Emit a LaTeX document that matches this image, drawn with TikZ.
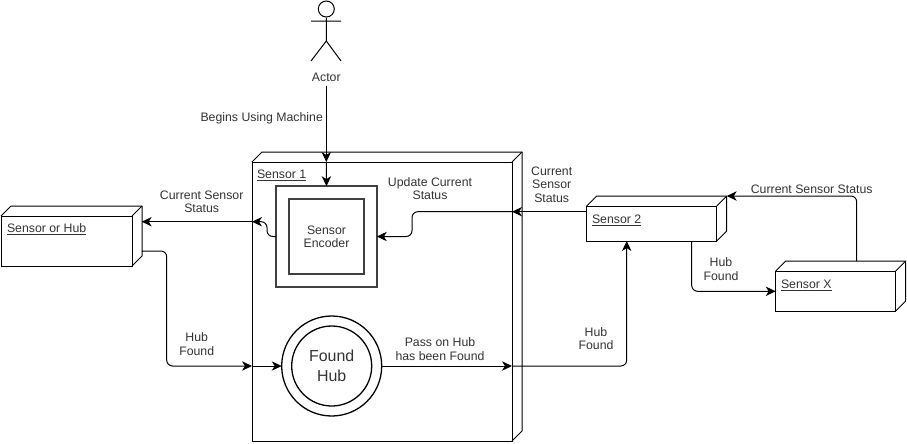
\documentclass[tikz,border=0pt]{standalone}
\usepackage{fontspec}
\setmainfont{Liberation Sans}
\usetikzlibrary{arrows.meta,calc}

\tikzset{
  cubeface/.style={draw,anchor=north west,inner sep=0pt,outer sep=0pt,line width=0.85pt},
  cubeline/.style={line width=0.85pt},
  txt/.style={inner sep=0pt,outer sep=0pt,text=black!80,align=center,font=\fontsize{10.5}{11.5}\selectfont},
  cubelabel/.style={txt,anchor=west},
  flow/.style={line width=0.85pt,rounded corners=5pt,-{Stealth[length=8.5pt,width=8pt,inset=2.5pt]}},
  encoderbox/.style={draw=black!75,line width=1.9pt,inner sep=0pt,outer sep=0pt},
  hubring/.style={draw,circle,line width=1.1pt,inner sep=0pt,outer sep=0pt}
}
\newcommand{\cubeback}[1]{
  \draw[cubeline,line join=round] (#1.north west) -- ++(10,-10) -- ($(#1.north east)+(10,-10)$)
    -- ($(#1.south east)+(10,-10)$) -- (#1.south east);
  \draw[cubeline] (#1.north east) -- ++(10,-10);
}

\begin{document}
\begin{tikzpicture}[x=0.03cm,y=-0.03cm]
  \useasboundingbox (0,0) rectangle (907,443);

  % actor
  \node[draw,circle,line width=0.85pt,minimum size=0.48cm,inner sep=0pt] (head) at (326.3,9) {};
  \coordinate (arml) at (311,21);
  \coordinate (armr) at (341,21);
  \coordinate (hip) at (326.3,41);
  \coordinate (legl) at (311,61);
  \coordinate (legr) at (341,61);
  \draw[cubeline] (head.south)--(hip) (arml)--(armr) (legl)--(hip)--(legr);
  \node[txt] (actor) at (326.3,77) {Actor};
  \coordinate (actorout) at (326.3,86);

  % cubes
  \node[cubeface,minimum width=7.8cm,minimum height=8.37cm] (sensor1) at (252,162) {};
  \cubeback{sensor1}
  \node[cubeface,minimum width=3.93cm,minimum height=1.5cm] (hubbox) at (1,216) {};
  \cubeback{hubbox}
  \node[cubeface,minimum width=3.9cm,minimum height=1.05cm] (sensor2) at (586.7,206) {};
  \cubeback{sensor2}
  \node[cubeface,minimum width=3.6cm,minimum height=1.2cm] (sensorx) at (775.7,271) {};
  \cubeback{sensorx}

  \node[cubelabel] (sensor1txt) at (257,175.5) {\underline{Sensor 1}};
  \node[cubelabel] (hubboxtxt) at (7,229.5) {\underline{Sensor or Hub}};
  \node[cubelabel] (sensor2txt) at (592,220.5) {\underline{Sensor 2}};
  \node[cubelabel] (sensorxtxt) at (781,285.5) {\underline{Sensor X}};

  % encoder
  \node[encoderbox,minimum size=3.02cm] (encoder) at (326.5,236.5) {};
  \node[encoderbox,minimum size=2.25cm,txt] (encoderin) at (326.5,236.5) {Sensor\\Encoder};

  % found hub
  \node[hubring,minimum size=3cm] (hub) at (331.7,366) {};
  \node[hubring,minimum size=2.4cm,font=\fontsize{13.6}{17}\selectfont,text=black!80,align=center] (hubin) at (331.7,366) {Found\\Hub};

  % free ends
  \coordinate (s1left) at (252,221.7);
  \coordinate (s1right) at (512,211.7);
  \coordinate (hubtop) at (141.7,221.7);
  \coordinate (hubout) at (141.7,251);
  \coordinate (s1hubin) at (252,366);
  \coordinate (s1hubout) at (512,366);
  \coordinate (s2left) at (586.7,211.7);
  \coordinate (s2in) at (626.7,241);
  \coordinate (s2down) at (691.7,241);
  \coordinate (s2back) at (726.7,196);
  \coordinate (sxin) at (775.7,291.3);
  \coordinate (sxup) at (856.7,261);

  % connectors
  \draw[flow] (actorout)--(actorout|-sensor1.north);
  \draw[flow] (actorout|-sensor1.north)--(encoder.north);
  \draw[flow] (encoder.west)--(267,236.5)--(267,221.7)--(s1left);
  \draw[flow] (s1left)--(hubtop);
  \draw[flow] (hubout)--(166.7,251)--(166.7,366)--(s1hubin);
  \draw[flow] (s1hubin)--(hub.west);
  \draw[flow] (hub.east)--(s1hubout);
  \draw[flow] (s1hubout)--(s2in|-s1hubout)--(s2in);
  \draw[flow] (s2left)--(s1right);
  \draw[flow] (s1right)--(412,211.7)--(412,236.5)--(encoder.east);
  \draw[flow] (sxup)--(sxup|-s2back)--(s2back);
  \draw[flow] (s2down)--(s2down|-sxin)--(sxin);

  % labels
  \node[txt] (begins) at (261.7,118.6) {Begins Using Machine};
  \node[txt] (update) at (430,188.5) {Update Current\\Status};
  \node[txt] (statusl) at (201.7,201.5) {Current Sensor\\Status};
  \node[txt] (statusm) at (551.7,184.5) {Current\\Sensor\\Status};
  \node[txt] (statusr) at (811.7,189) {Current Sensor Status};
  \node[txt] (foundl) at (196.7,344) {Hub\\Found};
  \node[txt] (foundr) at (596,338.5) {Hub\\Found};
  \node[txt] (foundm) at (721,269) {Hub\\Found};
  \node[txt] (pass) at (440,349) {Pass on Hub\\has been Found};
\end{tikzpicture}
\end{document}
